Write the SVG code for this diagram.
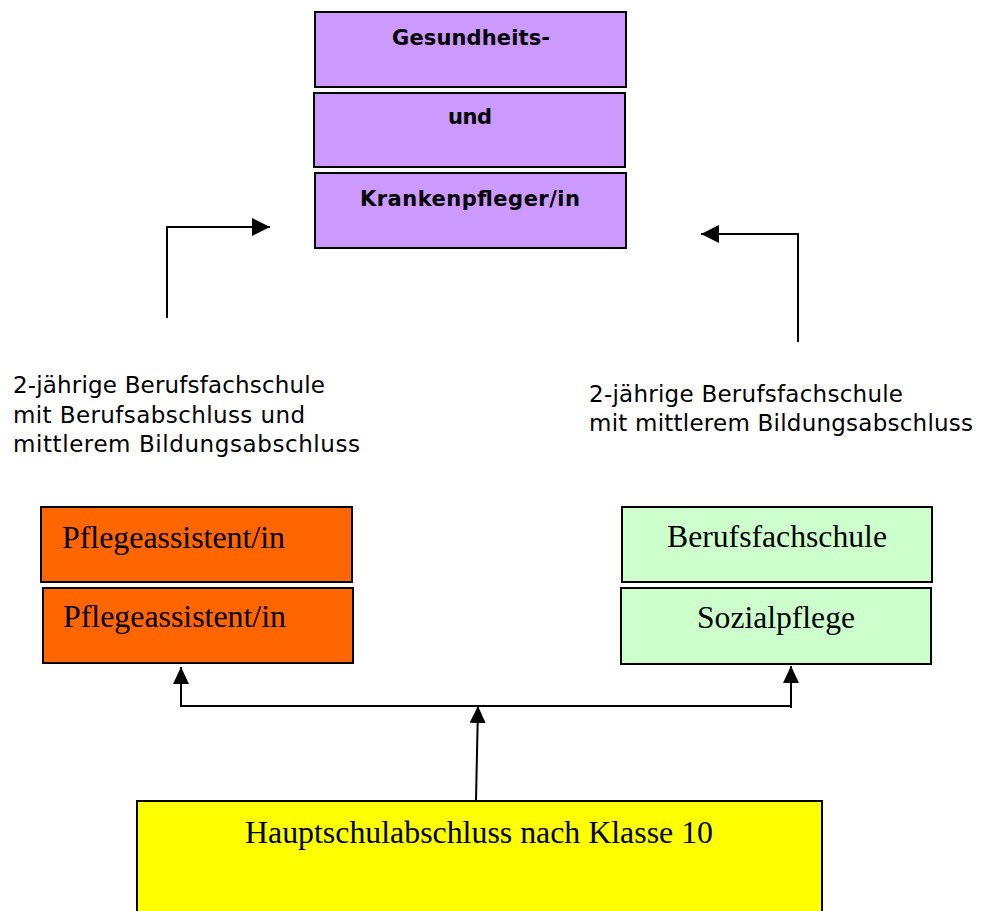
<svg xmlns="http://www.w3.org/2000/svg" width="990" height="911" viewBox="0 0 990 911">
<style>
  .box { stroke: #000; stroke-width: 2; }
  .purple { fill: #CC99FF; }
  .orange { fill: #FF6600; }
  .green { fill: #CCFFCC; }
  .yellow { fill: #FFFF00; }
  .bold { font-family: "DejaVu Sans", Verdana, sans-serif; font-weight: bold; font-size: 21px; fill: #000; text-anchor: middle; }
  .serif { font-family: "Liberation Serif", "Times New Roman", serif; font-size: 31px; fill: #000; }
  .lbl { font-family: "DejaVu Sans", Verdana, sans-serif; font-size: 23px; fill: #000; }
  .conn { fill: none; stroke: #000; stroke-width: 2; }
</style>
<defs>
  <marker id="arrBig" markerUnits="userSpaceOnUse" markerWidth="18" markerHeight="18" refX="18" refY="9" orient="auto">
    <polygon points="0,0 18,9 0,18" fill="#000"/>
  </marker>
  <marker id="arrSmall" markerUnits="userSpaceOnUse" markerWidth="17" markerHeight="16" refX="17" refY="8" orient="auto">
    <polygon points="0,0 17,8 0,16" fill="#000"/>
  </marker>
</defs>
<rect width="990" height="911" fill="#fff"/>

<g id="node-gesundheits">
  <rect class="box purple" x="315" y="12" width="311" height="75"/>
  <text class="bold" x="471" y="45" textLength="158" lengthAdjust="spacing">Gesundheits-</text>
</g>
<g id="node-und">
  <rect class="box purple" x="314" y="93" width="311" height="74"/>
  <text class="bold" x="470" y="124" textLength="44" lengthAdjust="spacing">und</text>
</g>
<g id="node-krankenpfleger">
  <rect class="box purple" x="315" y="173" width="311" height="75"/>
  <text class="bold" x="470" y="206" textLength="220" lengthAdjust="spacing">Krankenpfleger/in</text>
</g>

<g id="label-left">
  <text class="lbl" x="13" y="393" textLength="312" lengthAdjust="spacing">2-jährige Berufsfachschule</text>
  <text class="lbl" x="13" y="423" textLength="292" lengthAdjust="spacing">mit Berufsabschluss und</text>
  <text class="lbl" x="13" y="452" textLength="347" lengthAdjust="spacing">mittlerem Bildungsabschluss</text>
</g>
<g id="label-right">
  <text class="lbl" x="589" y="402" textLength="314" lengthAdjust="spacing">2-jährige Berufsfachschule</text>
  <text class="lbl" x="589" y="431" textLength="384" lengthAdjust="spacing">mit mittlerem Bildungsabschluss</text>
</g>

<g id="node-pflegeassistent-1">
  <rect class="box orange" x="41" y="507" width="311" height="75"/>
  <text class="serif" x="62" y="548" textLength="223" lengthAdjust="spacingAndGlyphs">Pflegeassistent/in</text>
</g>
<g id="node-pflegeassistent-2">
  <rect class="box orange" x="43" y="588" width="310" height="75"/>
  <text class="serif" x="63" y="627" textLength="223" lengthAdjust="spacingAndGlyphs">Pflegeassistent/in</text>
</g>

<g id="node-berufsfachschule">
  <rect class="box green" x="622" y="507" width="310" height="75"/>
  <text class="serif" x="667" y="547" textLength="220" lengthAdjust="spacingAndGlyphs">Berufsfachschule</text>
</g>
<g id="node-sozialpflege">
  <rect class="box green" x="621" y="588" width="310" height="76"/>
  <text class="serif" x="697" y="628" textLength="158" lengthAdjust="spacingAndGlyphs">Sozialpflege</text>
</g>

<g id="node-hauptschulabschluss">
  <rect class="box yellow" x="137" y="801" width="685" height="120"/>
  <text class="serif" x="245" y="843" textLength="468" lengthAdjust="spacingAndGlyphs">Hauptschulabschluss nach Klasse 10</text>
</g>

<g id="connectors">
  <path class="conn" d="M167,318 V227 H270" marker-end="url(#arrBig)"/>
  <path class="conn" d="M798,342 V234 H701" marker-end="url(#arrBig)"/>
  <path class="conn" d="M180,706 H792"/>
  <path class="conn" d="M181,706 V667" marker-end="url(#arrSmall)"/>
  <path class="conn" d="M476,800 L478,706" marker-end="url(#arrSmall)"/>
  <path class="conn" d="M791,708 V666" marker-end="url(#arrSmall)"/>
</g>
</svg>
